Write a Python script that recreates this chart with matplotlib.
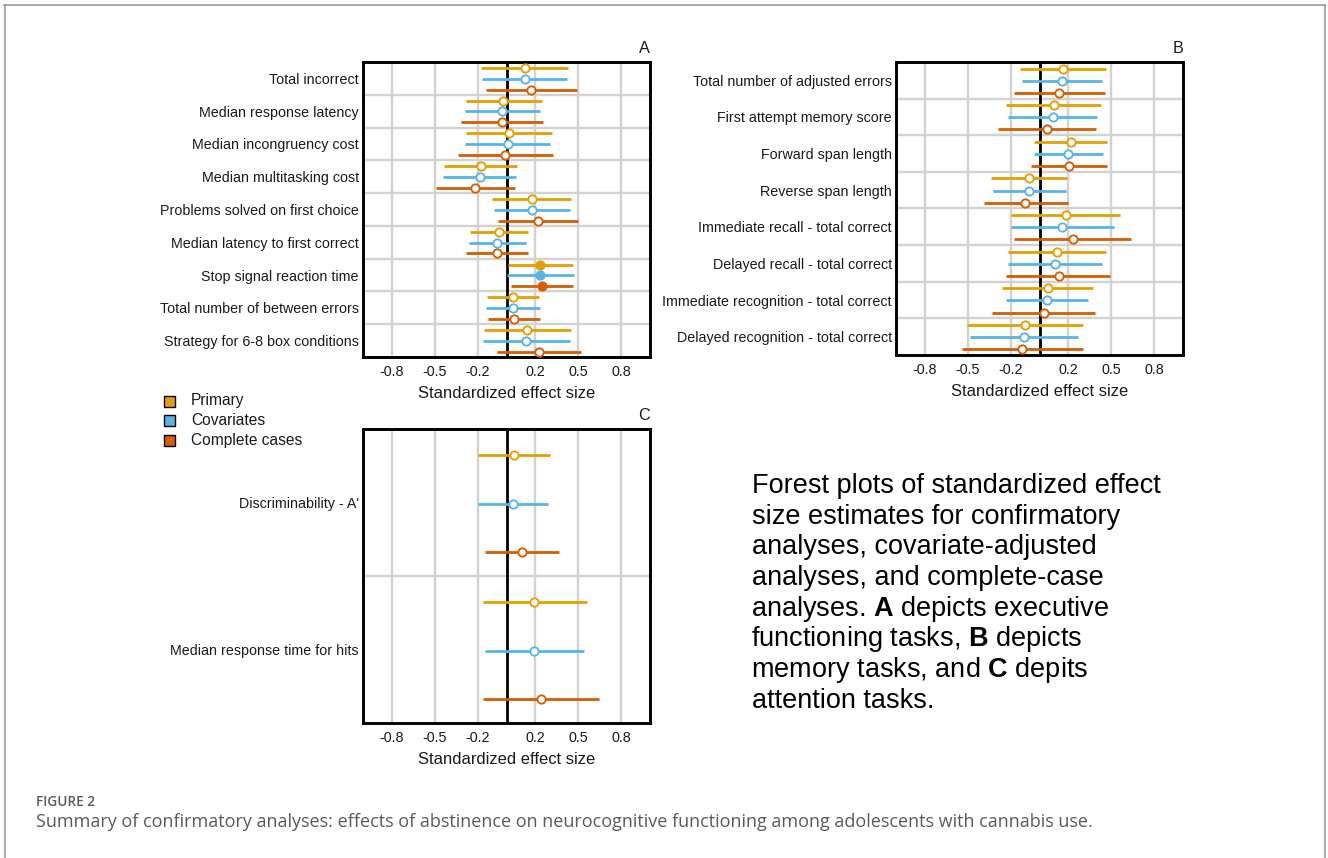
import matplotlib
matplotlib.use("Agg")
import matplotlib.pyplot as plt
from matplotlib.patches import Rectangle
from matplotlib.lines import Line2D

plt.rcParams['font.family'] = ['Liberation Sans', 'DejaVu Sans']
plt.rcParams['mathtext.fontset'] = 'custom'
plt.rcParams['mathtext.rm'] = 'Liberation Sans'
plt.rcParams['mathtext.bf'] = 'Liberation Sans:bold'

# ---------------- data ----------------
series = ['Primary', 'Covariates', 'Complete cases']
colors = ['#E69F00', '#56B4E9', '#D55E00']
tick_values = [-0.8, -0.5, -0.2, 0.2, 0.5, 0.8]
tick_labels = ['-0.8', '-0.5', '-0.2', '0.2', '0.5', '0.8']

# Panel A: executive functioning (lower, estimate, upper)
a_labels = ['Total incorrect', 'Median response latency', 'Median incongruency cost',
            'Median multitasking cost', 'Problems solved on first choice',
            'Median latency to first correct', 'Stop signal reaction time',
            'Total number of between errors', 'Strategy for 6-8 box conditions']
a_primary = [(-0.181, 0.126, 0.430), (-0.284, -0.021, 0.249), (-0.284, 0.019, 0.319),
             (-0.435, -0.179, 0.074), (-0.098, 0.177, 0.451), (-0.256, -0.051, 0.151),
             (0.009, 0.235, 0.465), (-0.133, 0.044, 0.226), (-0.160, 0.142, 0.447)]
a_covariates = [(-0.170, 0.126, 0.421), (-0.291, -0.028, 0.235), (-0.286, 0.007, 0.302),
                (-0.440, -0.184, 0.065), (-0.084, 0.177, 0.440), (-0.260, -0.067, 0.133),
                (0.005, 0.235, 0.467), (-0.144, 0.044, 0.235), (-0.163, 0.137, 0.440)]
a_complete = [(-0.144, 0.174, 0.493), (-0.314, -0.028, 0.256), (-0.335, -0.007, 0.321),
              (-0.491, -0.219, 0.058), (-0.058, 0.221, 0.498), (-0.279, -0.063, 0.151),
              (0.033, 0.249, 0.465), (-0.128, 0.049, 0.230), (-0.067, 0.228, 0.521)]
a_significant = [False, False, False, False, False, False, True, False, False]

# Panel B: memory
b_labels = ['Total number of adjusted errors', 'First attempt memory score',
            'Forward span length', 'Reverse span length',
            'Immediate recall - total correct', 'Delayed recall - total correct',
            'Immediate recognition - total correct', 'Delayed recognition - total correct']
b_primary = [(-0.133, 0.164, 0.466), (-0.230, 0.098, 0.431), (-0.035, 0.220, 0.473),
             (-0.335, -0.070, 0.192), (-0.201, 0.183, 0.564), (-0.220, 0.122, 0.464),
             (-0.258, 0.056, 0.372), (-0.506, -0.103, 0.300)]
b_covariates = [(-0.122, 0.155, 0.433), (-0.220, 0.091, 0.403), (-0.040, 0.201, 0.445),
                (-0.326, -0.070, 0.183), (-0.201, 0.155, 0.518), (-0.220, 0.105, 0.438),
                (-0.230, 0.054, 0.335), (-0.485, -0.108, 0.265)]
b_complete = [(-0.180, 0.138, 0.459), (-0.286, 0.052, 0.391), (-0.061, 0.208, 0.473),
              (-0.386, -0.098, 0.197), (-0.176, 0.232, 0.637), (-0.230, 0.133, 0.492),
              (-0.330, 0.028, 0.389), (-0.539, -0.119, 0.302)]
b_significant = [False] * 8

# Panel C: attention
c_labels = ["Discriminability - A'", 'Median response time for hits']
c_primary = [(-0.200, 0.051, 0.300), (-0.163, 0.195, 0.558)]
c_covariates = [(-0.200, 0.042, 0.291), (-0.153, 0.191, 0.537)]
c_complete = [(-0.147, 0.109, 0.367), (-0.163, 0.237, 0.647)]
c_significant = [False, False]

caption_head = 'FIGURE 2'
caption_text = ('Summary of confirmatory analyses: effects of abstinence on neurocognitive '
                'functioning among adolescents with cannabis use.')
note_lines = ['Forest plots of standardized effect',
              'size estimates for confirmatory',
              'analyses, covariate-adjusted',
              'analyses, and complete-case',
              r'analyses. $\mathbf{A}$ depicts executive',
              r'functioning tasks, $\mathbf{B}$ depicts',
              r'memory tasks, and $\mathbf{C}$ depits',
              'attention tasks.']

# ---------------- figure ----------------
W, H = 1328, 858
fig = plt.figure(figsize=(W / 100, H / 100), dpi=100)


def px_axes(left, top, right, bottom):
    return fig.add_axes([left / W, 1 - bottom / H, (right - left) / W, (bottom - top) / H])


def fx(x):
    return x / W


def fy(y):
    return 1 - y / H


offsets = [-0.32, 0.01, 0.34]
grid_col = '#d2d2d2'


def panel(ax, labels, data, sig, letter):
    n = len(labels)
    ax.set_xlim(-1, 1)
    ax.set_ylim(n - 0.5, -0.5)
    for t in tick_values:
        ax.axvline(t, color=grid_col, lw=1.7, zorder=0)
    for k in range(1, n):
        ax.axhline(k - 0.5, color=grid_col, lw=1.7, zorder=0)
    ax.axvline(0, color='black', lw=2.0, zorder=1)
    for rows, col, off in zip(data, colors, offsets):
        for i, (lo, est, hi) in enumerate(rows):
            y = i + off
            ax.plot([lo, hi], [y, y], color=col, lw=2.0, solid_capstyle='butt', zorder=2)
            ax.plot([est], [y], 'o', ms=6.0, mfc=col if sig[i] else 'white',
                    mec=col, mew=1.35, zorder=3)
    ax.set_xticks(tick_values)
    ax.set_xticklabels(tick_labels, fontsize=10.4, color='#1a1a1a')
    ax.set_yticks(range(n))
    ax.set_yticklabels(labels, fontsize=10.3, color='#1a1a1a')
    ax.tick_params(axis='x', length=0, pad=6)
    ax.tick_params(axis='y', length=0, pad=3)
    for sp in ax.spines.values():
        sp.set_linewidth(2.1)
        sp.set_color('black')
    ax.set_xlabel('Standardized effect size', fontsize=11.9, labelpad=5, color='#1a1a1a')
    ax.text(1.0, 1.02, letter, transform=ax.transAxes, ha='right', va='bottom',
            fontsize=11.7, color='#1a1a1a')


axA = px_axes(363, 62, 650, 357)
panel(axA, a_labels, [a_primary, a_covariates, a_complete], a_significant, 'A')
axB = px_axes(896, 62, 1183, 355)
panel(axB, b_labels, [b_primary, b_covariates, b_complete], b_significant, 'B')
axC = px_axes(363, 429, 650, 723)
panel(axC, c_labels, [c_primary, c_covariates, c_complete], c_significant, 'C')

# legend
for k, (name, col) in enumerate(zip(series, colors)):
    yc = 401 + k * 19.7
    fig.add_artist(Rectangle((fx(164), fy(yc + 5.5)), 11 / W, 11 / H,
                             transform=fig.transFigure, facecolor=col,
                             edgecolor='black', lw=1.0))
    fig.text(fx(191), fy(yc), name, fontsize=11.2, va='center', ha='left', color='#1a1a1a')

# descriptive note
for k, line in enumerate(note_lines):
    xoff = -1 if '$' in line else 0
    fig.text(fx(752 + xoff), fy(493 + k * 30.7), line, fontsize=19.5, va='baseline',
             ha='left', color='black')

# caption
fig.text(fx(36), fy(802), caption_head, fontsize=9.8, va='center', ha='left',
         color='#5a5a5a', family=['Open Sans', 'DejaVu Sans'], fontweight='semibold')
fig.text(fx(36), fy(822), caption_text, fontsize=12.95, va='center', ha='left',
         color='#5a5a5a', family=['Open Sans', 'DejaVu Sans'])

# outer frame
frame_col = '#9a9a9a'
fig.add_artist(Line2D([fx(4), fx(1325)], [fy(4.5), fy(4.5)], color=frame_col, lw=1.2,
                      transform=fig.transFigure))
fig.add_artist(Line2D([fx(4.5), fx(4.5)], [fy(4.5), 0], color=frame_col, lw=1.2,
                      transform=fig.transFigure))
fig.add_artist(Line2D([fx(1324.5), fx(1324.5)], [fy(4.5), 0], color=frame_col, lw=1.2,
                      transform=fig.transFigure))

fig.savefig('out.png', dpi=100)
